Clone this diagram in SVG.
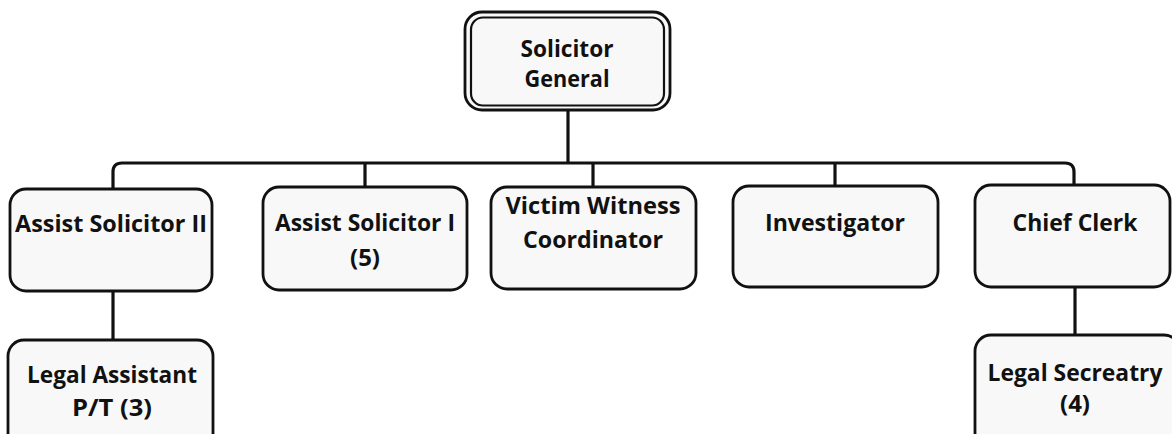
<svg xmlns="http://www.w3.org/2000/svg" width="1172" height="434" viewBox="0 0 1172 434">
  <style>
    .box { fill: #f8f8f8; stroke: #111; stroke-width: 2.8; }
    .inner { fill: none; stroke: #111; stroke-width: 2.2; }
    .wire { fill: none; stroke: #111; stroke-width: 3.2; }
    .lbl { font-family: "Open Sans", "Liberation Sans", sans-serif; font-weight: 700; font-size: 23px; fill: #111; text-anchor: middle; }
  </style>
  <rect width="1172" height="434" fill="#ffffff"/>

  <!-- connectors -->
  <g id="connectors">
    <path class="wire" d="M568,110 V163"/>
    <path class="wire" d="M113,189 V172 Q113,163 122,163 H1065 Q1074,163 1074,172 V185"/>
    <path class="wire" d="M365,163 V187"/>
    <path class="wire" d="M593,163 V187"/>
    <path class="wire" d="M835,163 V186"/>
    <path class="wire" d="M113,291 V340"/>
    <path class="wire" d="M1075,287 V335"/>
  </g>

  <g id="solicitor-general">
    <rect class="box" x="465" y="12" width="205" height="98" rx="17"/>
    <rect class="inner" x="471" y="17.5" width="193" height="88" rx="12"/>
    <text class="lbl" x="567" y="57" textLength="93" lengthAdjust="spacingAndGlyphs">Solicitor</text>
    <text class="lbl" x="567" y="87" textLength="85" lengthAdjust="spacingAndGlyphs">General</text>
  </g>

  <g id="assist-solicitor-2">
    <rect class="box" x="10" y="189" width="202" height="102" rx="16"/>
    <text class="lbl" x="111" y="232" textLength="192" lengthAdjust="spacingAndGlyphs">Assist Solicitor II</text>
  </g>

  <g id="assist-solicitor-1">
    <rect class="box" x="263" y="187" width="204" height="103" rx="16"/>
    <text class="lbl" x="365" y="231" textLength="180" lengthAdjust="spacingAndGlyphs">Assist Solicitor I</text>
    <text class="lbl" x="365" y="266" textLength="30" lengthAdjust="spacingAndGlyphs">(5)</text>
  </g>

  <g id="victim-witness-coordinator">
    <rect class="box" x="491" y="187" width="205" height="102" rx="16"/>
    <text class="lbl" x="593" y="214" textLength="175" lengthAdjust="spacingAndGlyphs">Victim Witness</text>
    <text class="lbl" x="593" y="248" textLength="140" lengthAdjust="spacingAndGlyphs">Coordinator</text>
  </g>

  <g id="investigator">
    <rect class="box" x="733" y="186" width="205" height="101" rx="16"/>
    <text class="lbl" x="835" y="231" textLength="140" lengthAdjust="spacingAndGlyphs">Investigator</text>
  </g>

  <g id="chief-clerk">
    <rect class="box" x="975" y="185" width="195" height="102" rx="16"/>
    <text class="lbl" x="1075" y="231" textLength="125" lengthAdjust="spacingAndGlyphs">Chief Clerk</text>
  </g>

  <g id="legal-assistant">
    <rect class="box" x="8" y="340" width="205" height="110" rx="16"/>
    <text class="lbl" x="112" y="383" textLength="170" lengthAdjust="spacingAndGlyphs">Legal Assistant</text>
    <text class="lbl" x="112" y="416" textLength="80" lengthAdjust="spacingAndGlyphs">P/T (3)</text>
  </g>

  <g id="legal-secretary">
    <rect class="box" x="975" y="335" width="205" height="115" rx="16"/>
    <text class="lbl" x="1075" y="381" textLength="175" lengthAdjust="spacingAndGlyphs">Legal Secreatry</text>
    <text class="lbl" x="1075" y="412" textLength="30" lengthAdjust="spacingAndGlyphs">(4)</text>
  </g>
</svg>
